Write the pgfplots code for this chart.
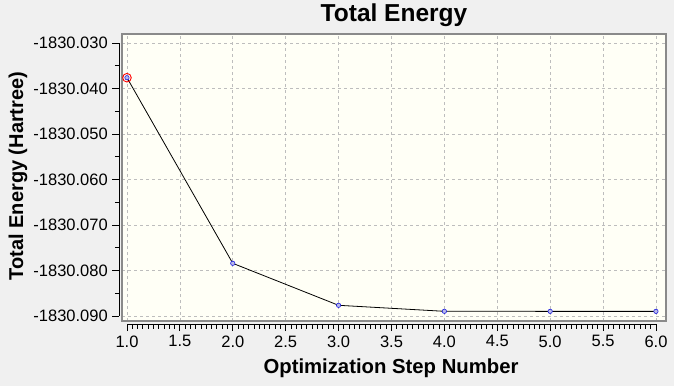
\documentclass[border=0pt]{standalone}
\usepackage{pgfplots}
\pgfplotsset{compat=1.18}
\usepackage{fontspec}
\setmainfont{Liberation Sans}
\definecolor{bggray}{HTML}{F0F0F0}
\definecolor{plotbg}{HTML}{FFFFF6}
\definecolor{framegray}{HTML}{8A8A8A}
\definecolor{gridgray}{HTML}{BDBDBD}
\definecolor{mkblue}{HTML}{2020E0}
\definecolor{mkfill}{HTML}{B8B8E8}
\begin{document}
\begin{tikzpicture}[x=1pt,y=1pt]
\fill[bggray] (0,0) rectangle (674,386);
% main plotting frame
\begin{axis}[
  at={(122pt,65pt)}, anchor=south west,
  scale only axis, width=544pt, height=287pt,
  xmin=0.953, xmax=6.095, ymin=-91.1, ymax=-28.02,
  axis background/.style={fill=plotbg},
  axis line style={draw=framegray, line width=1.3pt},
  xtick={1,1.5,...,6}, ytick={-90,-80,...,-30},
  xticklabels={}, yticklabels={},
  major tick length=0pt,
  grid=major,
  grid style={gridgray, dash pattern=on 3pt off 3pt, line width=0.7pt},
  clip=false,
]
\addplot[black, line width=0.8pt, mark=*, mark size=2.2pt,
  mark options={draw=mkblue, fill=mkfill, line width=0.6pt}]
  coordinates {(1,-37.63) (2,-78.42) (3,-87.65) (4,-88.97) (5,-88.98) (6,-88.98)};
\addplot[only marks, mark=o, mark size=4.3pt, mark options={draw=red, line width=0.9pt}]
  coordinates {(1,-37.63)};
\end{axis}
% separate axis lines with ticks
\begin{axis}[
  at={(127pt,70pt)}, anchor=south west,
  scale only axis, width=529pt, height=273pt,
  xmin=1, xmax=6, ymin=-90, ymax=-30,
  axis x line=bottom, axis y line=left,
  axis x line shift=8pt, axis y line shift=7.7pt,
  axis line style={-, black, line width=0.9pt},
  xtick={1,1.5,...,6},
  xticklabels={1.0,1.5,2.0,2.5,3.0,3.5,4.0,4.5,5.0,5.5,6.0},
  ytick={-90,-80,...,-30},
  yticklabels={-1830.090,-1830.080,-1830.070,-1830.060,-1830.050,-1830.040,-1830.030},
  minor x tick num=9, minor y tick num=1,
  tick align=outside,
  major tick length=7pt, minor tick length=4.5pt,
  tick style={black, line width=0.9pt},
  ticklabel style={font=\fontsize{16.5}{18}\selectfont},
  xticklabel style={yshift=-1pt},
  yticklabel style={xshift=-1pt},
]
\addplot[draw=none] coordinates {(1,-90)};
\end{axis}
\node[font=\fontsize{24.5}{26}\selectfont\bfseries] at (394,371) {Total Energy};
\node[font=\fontsize{20.3}{22}\selectfont\bfseries] at (391,18) {Optimization Step Number};
\node[font=\fontsize{20}{22}\selectfont\bfseries, rotate=90] at (18,210) {Total Energy (Hartree)};
\end{tikzpicture}
\end{document}
